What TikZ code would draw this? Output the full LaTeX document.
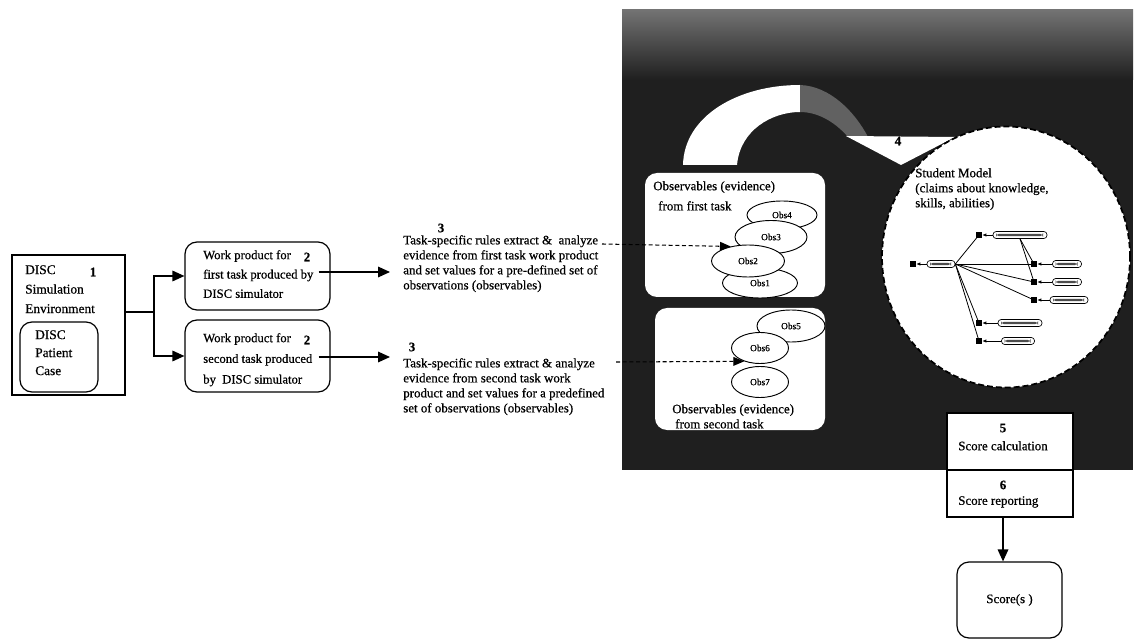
\documentclass[tikz,border=0pt]{standalone}
\usepackage{fontspec}
\setmainfont[FakeBold=0.6]{Liberation Serif}
\usetikzlibrary{arrows.meta,shapes.geometric,calc}
\tikzset{
  sz/.style n args={2}{minimum width=#1*0.75pt, minimum height=#2*0.75pt},
  box/.style={draw, line width=0.9pt, fill=white, inner sep=0pt},
  rbox/.style={box, rounded corners=9pt},
  wbox/.style={fill=white, rounded corners=9pt, inner sep=0pt},
  txt/.style={font=\fontsize{9.7}{11.25}\selectfont, inner sep=0pt, align=left, anchor=north west},
  num/.style={font=\fontsize{9.7}{11.25}\selectfont\bfseries, inner sep=0pt},
  arr/.style={line width=0.9pt, -{Triangle[length=9pt,width=8pt]}},
  darr/.style={line width=0.8pt, dash pattern=on 3pt off 2pt, -{Triangle[length=8pt,width=6.5pt]}},
  obs/.style={ellipse, draw, line width=0.7pt, fill=white, inner sep=0pt, font=\fontsize{7}{8}\selectfont},
  sq/.style={fill=black, minimum size=4.5pt, inner sep=0pt},
  pill/.style={draw, line width=0.5pt, fill=white, rounded corners=2.4pt, minimum height=5.25pt, inner sep=0pt,
     path picture={\fill[black!70] ($(path picture bounding box.west)+(3,-1.2)$) rectangle ($(path picture bounding box.east)+(-4,1.2)$);}},
  gl/.style={line width=0.6pt},
  ga/.style={line width=0.5pt, -{Latex[length=3pt,width=2.5pt]}}
}
\begin{document}
\begin{tikzpicture}[x=0.75pt,y=-0.75pt]
\useasboundingbox (0,0) rectangle (1138,641);
\fill[white] (0,0) rectangle (1138,641);

% dark background
\fill[black!88] (622,10) rectangle (1133,470);
\shade[top color=black!55, bottom color=black!88] (622,10) rectangle (1133,80);

% curved arrow 4
\fill[white] (683,165) .. controls (684,116) and (738,85) .. (800,85) -- (800,112) .. controls (772,112) and (740,130) .. (737,165) -- cycle;
\fill[black!62] (800,85) .. controls (830,86) and (855,112) .. (868,137) -- (848,137) .. controls (835,122) and (818,112) .. (800,112) -- cycle;
\fill[white] (846,136) -- (955,137) -- (901,165) -- cycle;
\node[num] (n4) at (898,141) {4};

% DISC box
\node[box, sz={113}{140}] (disc) at (68.5,325) {};
\node[txt, font=\fontsize{10}{14.6}\selectfont] (disct) at (25,265) {DISC\\Simulation\\Environment};
\node[num] (n1) at (93,272) {1};
\node[rbox, sz={78}{70}] (case) at (59,357) {};
\node[txt, font=\fontsize{10}{13.5}\selectfont] (caset) at (35,330) {DISC\\Patient\\Case};

% work product boxes
\node[rbox, sz={145}{68}] (wp1) at (257.5,276) {};
\node[txt, font=\fontsize{9.5}{14.5}\selectfont] (wp1t) at (203,250) {Work product for\\first task produced by\\DISC simulator};
\node[num] (n2a) at (307,257) {2};
\node[rbox, sz={145}{72}] (wp2) at (257.5,356) {};
\node[txt, font=\fontsize{9.5}{15.5}\selectfont] (wp2t) at (203,333) {Work product for\\second task produced\\by\ \ DISC simulator};
\node[num] (n2b) at (307,340) {2};

% branch
\coordinate (br) at (154,312);
\draw[line width=0.9pt] ($(disc.east)+(0,-13)$) -- (br);
\draw[arr] (br) |- (wp1.west);
\draw[arr] (br) |- (wp2.west);

% rule texts
\node[num] (n3a) at (441,228) {3};
\node[txt] (t3a) at (403,235) {Task-specific rules extract \&\ \ analyze\\evidence from first task work product\\and set values for a pre-defined set of\\observations (observables)};
\node[num] (n3b) at (412,347) {3};
\node[txt] (t3b) at (403,358) {Task-specific rules extract \& analyze\\evidence from second task work\\product and set values for a predefined\\set of observations (observables)};

\coordinate (a1) at (390,272);
\coordinate (a2) at (390,357);
\draw[arr] ($(wp1.east)+(-12,-4)$) -- (a1);
\draw[arr] ($(wp2.east)+(-12,1)$) -- (a2);

% observables boxes
\node[wbox, sz={180}{124}] (wb1) at (735,235) {};
\node[wbox, sz={170}{122}] (wb2) at (740,369) {};
\node[txt] (wb1t) at (653,181) {Observables (evidence)};
\node[txt] (wb1u) at (658,201) {from first task};
\node[txt] (wb2t) at (672,404) {Observables (evidence)};
\node[txt] (wb2u) at (675,419) {from second task};

\node[obs, sz={70}{28}] (obs4) at (782,215) {Obs4};
\node[obs, sz={72}{33}] (obs3) at (771,237) {Obs3};
\node[obs, sz={75}{30}] (obs1) at (760,283) {Obs1};
\node[obs, sz={73}{32}] (obs2) at (748,261) {Obs2};
\node[obs, sz={68}{32}] (obs5) at (791,326) {Obs5};
\node[obs, sz={57}{31}] (obs6) at (760,348) {Obs6};
\node[obs, sz={57}{31}] (obs7) at (760,382) {Obs7};

\coordinate (d1) at (602,244);
\coordinate (d2) at (616,362);
\draw[darr] (d1) -- (obs2.140);
\draw[darr] (d2) -- (obs6.220);

% student model
\node[ellipse, draw, line width=1.3pt, dash pattern=on 4.5pt off 2.2pt, fill=white, sz={248}{261}] (sm) at (1006,257) {};
\node[txt] (smt) at (915,168) {Student Model\\(claims about knowledge,\\skills, abilities)};

\node[sq] (s0) at (913,264) {};
\node[pill, minimum width=21pt] (p0) at (941,264) {};
\node[sq] (sa) at (979,235) {};
\node[pill, minimum width=40.5pt] (pa) at (1020,235) {};
\node[sq] (sb) at (1034,264) {};
\node[pill, minimum width=21.75pt] (pb) at (1067,264) {};
\node[sq] (sc) at (1034,282) {};
\node[pill, minimum width=21.75pt] (pc) at (1067,282) {};
\node[sq] (sd) at (1034,300) {};
\node[pill, minimum width=28.5pt] (pd) at (1069,300) {};
\node[sq] (se) at (979,323) {};
\node[pill, minimum width=33pt] (pe) at (1020,323) {};
\node[sq] (sf) at (979,341) {};
\node[pill, minimum width=24.75pt] (pf) at (1018,341) {};

\foreach \p/\s in {p0/s0,pa/sa,pb/sb,pc/sc,pd/sd,pe/se,pf/sf}{
  \draw[ga] (\p.west) -- (\s.east);
}
\foreach \s in {sa,sb,sc,sd,se,sf}{
  \draw[gl] (p0.east) -- (\s.center);
}
\draw[gl] (pa.south) -- (sb.center);
\draw[gl] (pa.south) -- (sc.center);

% score boxes
\node[box, sz={126}{57}] (sc5) at (1010,441.5) {};
\node[box, sz={126}{47}] (sr6) at (1010,493.5) {};
\node[num] (n5) at (1003,428) {5};
\node[txt] (sct) at (958,441) {Score calculation};
\node[num] (n6) at (1003,485) {6};
\node[txt] (srt) at (958,496) {Score reporting};
\node[rbox, sz={105}{76}, font=\fontsize{9.7}{11.25}\selectfont] (scores) at (1009.5,600) {Score(s )};
\draw[arr] ($(sr6.south)+(-7,0)$) -- ($(scores.north)+(-6.5,0)$);

\end{tikzpicture}
\end{document}
